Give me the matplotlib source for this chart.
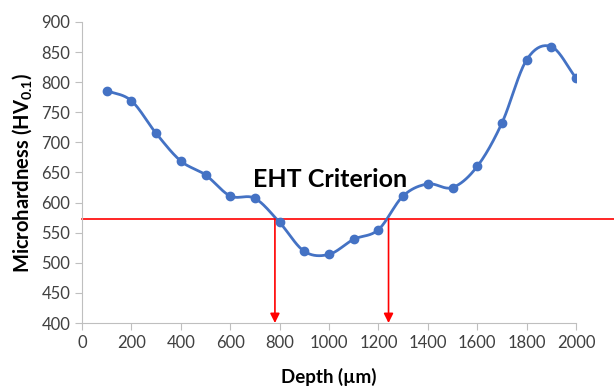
import numpy as np
import matplotlib
matplotlib.use("Agg")
import matplotlib.pyplot as plt

plt.rcParams['font.family'] = ['Lato', 'DejaVu Sans']
plt.rcParams['mathtext.fontset'] = 'custom'
plt.rcParams['mathtext.bf'] = 'Lato:bold'
plt.rcParams['mathtext.rm'] = 'Lato'

# measured hardness profile
depth = [100, 200, 300, 400, 500, 600, 700, 800, 900, 1000,
         1100, 1200, 1300, 1400, 1500, 1600, 1700, 1800, 1900, 2000]
hardness = [786, 769, 715, 669, 646, 611, 607, 567, 519, 514,
            539, 555, 611, 631, 625, 660, 732, 837, 859, 807]

criterion = 573
crossings = [781, 1241]


def smooth_curve(x, y, n=20):
    # Catmull-Rom style smoothing similar to Excel's smoothed line
    x = np.asarray(x, float)
    y = np.asarray(y, float)
    px = np.concatenate([[2 * x[0] - x[1]], x, [2 * x[-1] - x[-2]]])
    py = np.concatenate([[2 * y[0] - y[1]], y, [2 * y[-1] - y[-2]]])
    xs, ys = [], []
    t = np.linspace(0, 1, n, endpoint=False)
    for i in range(1, len(px) - 2):
        p0, p1, p2, p3 = [np.array([px[j], py[j]]) for j in range(i - 1, i + 3)]
        c1 = p1 + (p2 - p0) / 6
        c2 = p2 - (p3 - p1) / 6
        pts = ((1 - t) ** 3)[:, None] * p1 + (3 * (1 - t) ** 2 * t)[:, None] * c1 \
            + (3 * (1 - t) * t ** 2)[:, None] * c2 + (t ** 3)[:, None] * p2
        xs.extend(pts[:, 0])
        ys.extend(pts[:, 1])
    xs.append(x[-1])
    ys.append(y[-1])
    return xs, ys


fig = plt.figure(figsize=(6.14, 3.92), dpi=100)
ax = fig.add_axes([0.1336, 0.176, 0.8045, 0.768])

sx, sy = smooth_curve(depth, hardness)
ax.plot(sx, sy, color="#4472C4", lw=2, zorder=3)
ax.plot(depth, hardness, "o", color="#4472C4", ms=6, zorder=4)

# criterion line running past the right edge of the plot
ax.plot([0, 2160], [criterion, criterion], color="red", lw=1.2, clip_on=False, zorder=2)
for c in crossings:
    ax.annotate("", xy=(c, 400), xytext=(c, criterion),
                arrowprops=dict(arrowstyle="-|>", color="red", lw=1.2,
                                mutation_scale=14, shrinkA=0, shrinkB=0))

ax.text(1006, 638, "EHT Criterion", fontsize=18, fontweight="bold",
        ha="center", va="center")

ax.set_xlim(0, 2000)
ax.set_ylim(400, 900)
ax.set_xticks(range(0, 2001, 200))
ax.set_yticks(range(400, 901, 50))
ax.tick_params(labelsize=12, colors="#404040", length=5, color="#BFBFBF")
for s in ["top", "right"]:
    ax.spines[s].set_visible(False)
for s in ["left", "bottom"]:
    ax.spines[s].set_color("#BFBFBF")
ax.set_xlabel("Depth (µm)", fontsize=13.5, fontweight="bold", labelpad=12)
ax.set_ylabel(r"Microhardness (HV$_{\mathbf{0.1}}$)", fontsize=14.5,
              fontweight="bold", labelpad=5)

fig.savefig("out.png", dpi=100)
